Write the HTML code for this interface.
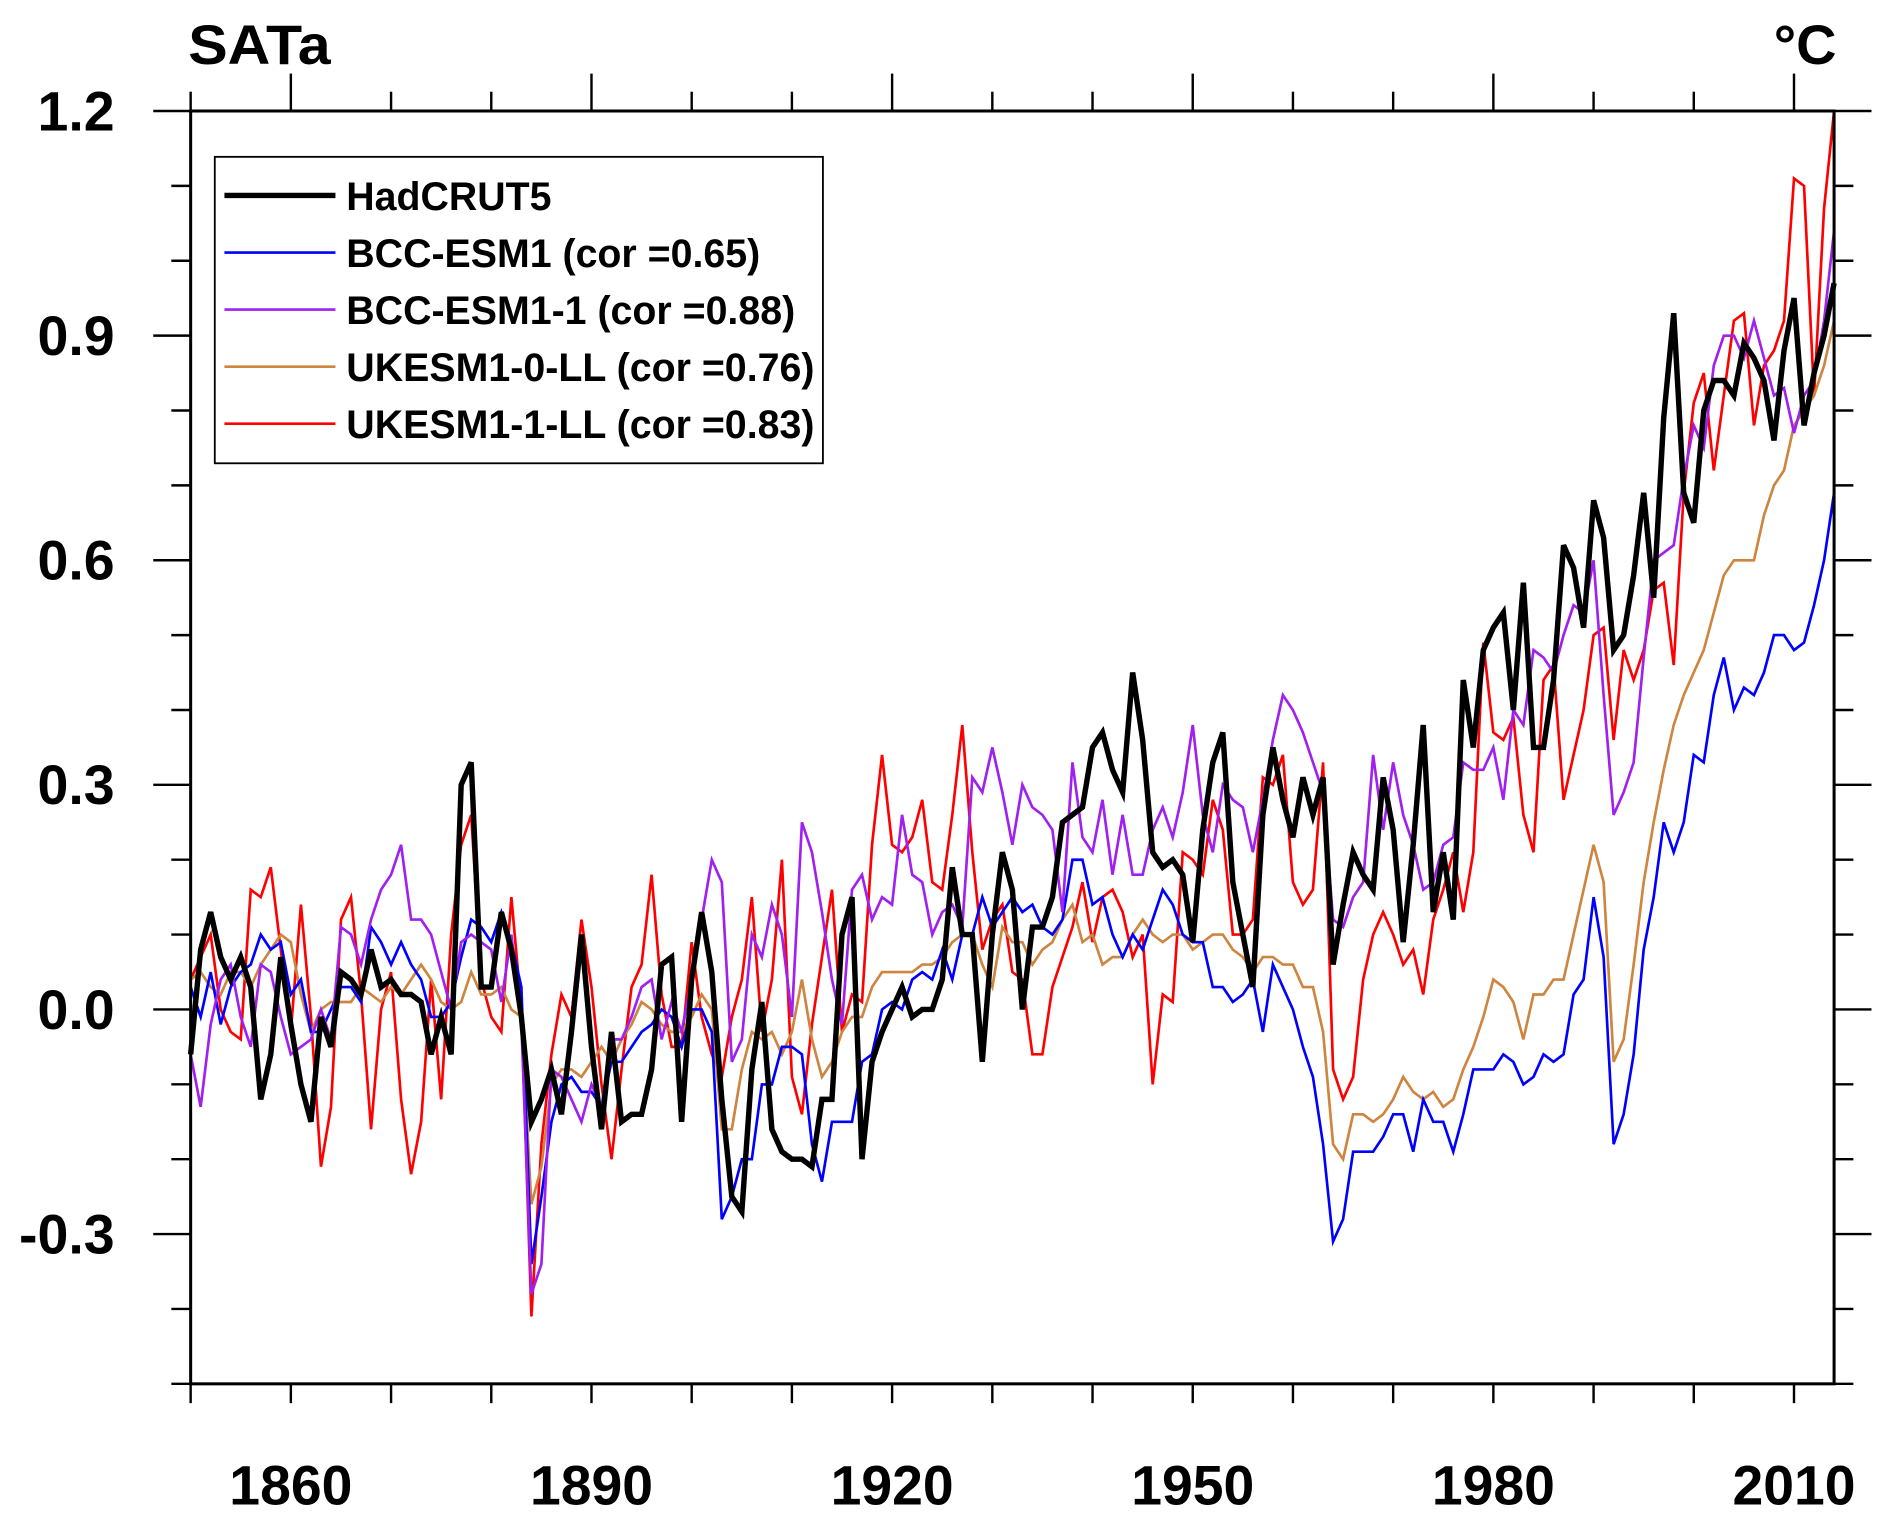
<!DOCTYPE html>
<html><head><meta charset="utf-8"><style>
html,body{margin:0;padding:0;background:#fff;}
svg{display:block;}
text{font-family:"Liberation Sans",Arial,sans-serif;font-weight:bold;fill:#000;}
</style></head><body>
<svg id="chart" width="1892" height="1525" viewBox="0 0 1568 1264" preserveAspectRatio="none" xmlns="http://www.w3.org/2000/svg">
<rect x="0" y="0" width="1568" height="1264" fill="#fff"/>
<g id="ticks"></g>
<g id="series"></g>
<rect x="158" y="92" width="1362" height="1055" fill="none" stroke="#000" stroke-width="2.5"/>
<text x="156" y="53" font-size="46" textLength="118" lengthAdjust="spacingAndGlyphs">SATa</text>
<text x="1470" y="53" font-size="46" textLength="52" lengthAdjust="spacingAndGlyphs">°C</text>
<g id="ylabels"></g>
<g id="xlabels"></g>
<g>
<rect x="178" y="130" width="504" height="254" fill="#fff" stroke="#000" stroke-width="1.5"/>
<g id="legend-items"></g>
</g>
</svg>
<script>
const years = [1850, 2014];
const yTickValues = [-0.3, 0, 0.3, 0.6, 0.9, 1.2];
const yTickLabels = ["-0.3", "0.0", "0.3", "0.6", "0.9", "1.2"];
const xTickValues = [1860, 1890, 1920, 1950, 1980, 2010];
const xTickLabels = ["1860", "1890", "1920", "1950", "1980", "2010"];
const seriesNames = ["HadCRUT5", "BCC-ESM1 (cor =0.65)", "BCC-ESM1-1 (cor =0.88)", "UKESM1-0-LL (cor =0.76)", "UKESM1-1-LL (cor =0.83)"];
const seriesColors = ["#000000", "#0000ff", "#a020f0", "#cd853f", "#ff0000"];

const hadcrut5 = [
-0.06,0.08,0.13,0.07,0.04,0.07,0.03,-0.12,-0.06,0.07,
-0.02,-0.10,-0.15,-0.01,-0.05,0.05,0.04,0.02,0.08,0.03,
0.04,0.02,0.02,0.01,-0.06,-0.01,-0.06,0.30,0.33,0.03,
0.03,0.13,0.08,-0.01,-0.15,-0.12,-0.08,-0.14,-0.03,0.10,
-0.05,-0.16,-0.03,-0.15,-0.14,-0.14,-0.08,0.06,0.07,-0.15,
0.04,0.13,0.05,-0.12,-0.25,-0.27,-0.08,0.01,-0.16,-0.19,
-0.20,-0.20,-0.21,-0.12,-0.12,0.10,0.15,-0.20,-0.07,-0.03,
0.00,0.03,-0.01,0.00,0.00,0.04,0.19,0.10,0.10,-0.07,
0.10,0.21,0.16,0.00,0.11,0.11,0.15,0.25,0.26,0.27,
0.35,0.37,0.32,0.29,0.45,0.36,0.21,0.19,0.20,0.18,
0.09,0.24,0.33,0.37,0.17,0.10,0.03,0.26,0.35,0.28,
0.23,0.31,0.26,0.31,0.06,0.14,0.21,0.18,0.16,0.31,
0.24,0.09,0.22,0.38,0.13,0.21,0.12,0.44,0.35,0.48,
0.51,0.53,0.40,0.57,0.35,0.35,0.44,0.62,0.59,0.51,
0.68,0.63,0.48,0.50,0.58,0.69,0.55,0.79,0.93,0.69,
0.65,0.80,0.84,0.84,0.82,0.89,0.87,0.84,0.76,0.88,
0.95,0.78,0.85,0.90,0.97];

const bccEsm1 = [
0.03,-0.01,0.05,-0.02,0.03,0.05,0.06,0.10,0.08,0.09,
0.02,0.04,-0.03,-0.03,0.00,0.03,0.03,0.01,0.11,0.09,
0.06,0.09,0.06,0.04,-0.01,-0.01,0.01,0.07,0.12,0.11,
0.09,0.13,0.09,0.03,-0.34,-0.25,-0.15,-0.10,-0.09,-0.11,
-0.11,-0.13,-0.07,-0.07,-0.05,-0.03,-0.02,0.00,-0.01,-0.05,
0.00,0.00,-0.03,-0.28,-0.25,-0.20,-0.20,-0.10,-0.10,-0.05,
-0.05,-0.06,-0.18,-0.23,-0.15,-0.15,-0.15,-0.07,-0.06,0.00,
0.01,0.00,0.04,0.05,0.04,0.08,0.04,0.10,0.10,0.15,
0.11,0.13,0.15,0.13,0.14,0.11,0.10,0.12,0.20,0.20,
0.14,0.15,0.10,0.07,0.10,0.08,0.12,0.16,0.14,0.10,
0.09,0.09,0.03,0.03,0.01,0.02,0.04,-0.03,0.06,0.03,
0.00,-0.05,-0.09,-0.18,-0.31,-0.28,-0.19,-0.19,-0.19,-0.17,
-0.14,-0.14,-0.19,-0.12,-0.15,-0.15,-0.19,-0.14,-0.08,-0.08,
-0.08,-0.06,-0.07,-0.10,-0.09,-0.06,-0.07,-0.06,0.02,0.04,
0.15,0.07,-0.18,-0.14,-0.06,0.08,0.15,0.25,0.21,0.25,
0.34,0.33,0.42,0.47,0.40,0.43,0.42,0.45,0.50,0.50,
0.48,0.49,0.54,0.60,0.69];

const bccEsm11 = [
-0.06,-0.13,-0.02,0.04,0.06,-0.01,-0.05,0.06,0.05,-0.01,
-0.06,-0.05,-0.04,0.00,-0.04,0.11,0.10,0.06,0.12,0.16,
0.18,0.22,0.12,0.12,0.10,0.05,0.00,0.09,0.10,0.09,
0.08,0.01,0.10,-0.02,-0.38,-0.34,-0.08,-0.09,-0.12,-0.15,
-0.10,-0.13,-0.04,-0.04,-0.01,0.03,0.04,-0.04,0.01,-0.03,
0.04,0.12,0.20,0.17,-0.07,-0.04,0.10,0.07,0.14,0.10,
-0.01,0.25,0.21,0.13,0.04,-0.02,0.16,0.18,0.12,0.15,
0.14,0.26,0.18,0.17,0.10,0.13,0.14,0.11,0.31,0.29,
0.35,0.29,0.22,0.30,0.27,0.26,0.24,0.13,0.33,0.23,
0.21,0.28,0.18,0.26,0.18,0.18,0.24,0.27,0.23,0.29,
0.38,0.26,0.21,0.30,0.28,0.27,0.21,0.28,0.36,0.42,
0.40,0.37,0.33,0.29,0.12,0.11,0.15,0.17,0.34,0.24,
0.33,0.26,0.22,0.16,0.17,0.22,0.23,0.33,0.32,0.32,
0.35,0.28,0.40,0.38,0.48,0.47,0.45,0.50,0.54,0.53,
0.60,0.42,0.26,0.29,0.33,0.47,0.60,0.61,0.62,0.71,
0.78,0.75,0.86,0.90,0.90,0.87,0.92,0.87,0.82,0.83,
0.77,0.82,0.84,0.92,1.04];

const ukesm10 = [
0.04,0.05,0.03,0.02,0.05,0.05,0.03,0.06,0.08,0.10,
0.09,0.02,-0.03,0.00,0.01,0.01,0.01,0.03,0.02,0.01,
0.03,0.02,0.04,0.06,0.04,0.01,0.00,0.01,0.05,0.02,
0.02,0.03,0.00,-0.01,-0.26,-0.21,-0.10,-0.08,-0.08,-0.09,
-0.07,-0.05,-0.07,-0.04,-0.02,0.01,0.00,-0.02,-0.03,-0.03,
-0.01,0.02,0.00,-0.16,-0.16,-0.08,-0.03,-0.04,-0.03,-0.06,
-0.03,0.04,-0.04,-0.09,-0.07,-0.03,-0.01,-0.01,0.03,0.05,
0.05,0.05,0.05,0.06,0.06,0.07,0.09,0.10,0.10,0.06,
0.03,0.11,0.09,0.09,0.06,0.08,0.09,0.12,0.14,0.09,
0.10,0.06,0.07,0.07,0.10,0.12,0.10,0.09,0.10,0.10,
0.08,0.09,0.10,0.10,0.08,0.07,0.05,0.07,0.07,0.06,
0.06,0.03,0.03,-0.03,-0.18,-0.20,-0.14,-0.14,-0.15,-0.14,
-0.12,-0.09,-0.11,-0.12,-0.11,-0.13,-0.12,-0.08,-0.05,-0.01,
0.04,0.03,0.01,-0.04,0.02,0.02,0.04,0.04,0.10,0.16,
0.22,0.17,-0.07,-0.04,0.06,0.17,0.25,0.32,0.38,0.42,
0.45,0.48,0.53,0.58,0.60,0.60,0.60,0.66,0.70,0.72,
0.78,0.80,0.82,0.86,0.92];

const ukesm11 = [
0.04,0.07,0.10,0.00,-0.03,-0.04,0.16,0.15,0.19,0.08,
-0.03,0.14,-0.01,-0.21,-0.13,0.12,0.15,0.02,-0.16,0.00,
0.05,-0.12,-0.22,-0.15,0.04,-0.12,0.10,0.22,0.26,0.04,
-0.01,-0.03,0.15,0.00,-0.41,-0.18,-0.06,0.02,-0.01,0.12,
0.03,-0.10,-0.20,-0.08,0.03,0.06,0.18,0.02,-0.05,-0.05,
0.09,-0.01,-0.06,-0.09,-0.01,0.04,0.15,-0.03,0.04,0.20,
-0.09,-0.14,-0.02,0.07,0.16,-0.03,0.02,0.01,0.22,0.34,
0.22,0.21,0.23,0.28,0.17,0.16,0.26,0.38,0.21,0.08,
0.12,0.14,0.05,0.04,-0.06,-0.06,0.03,0.07,0.11,0.17,
0.09,0.15,0.16,0.13,0.07,0.10,-0.10,0.02,0.01,0.21,
0.20,0.18,0.28,0.24,0.10,0.10,0.12,0.31,0.30,0.34,
0.17,0.14,0.16,0.33,-0.08,-0.12,-0.09,0.04,0.10,0.13,
0.10,0.06,0.08,0.02,0.12,0.16,0.21,0.13,0.21,0.49,
0.37,0.36,0.39,0.26,0.21,0.44,0.46,0.28,0.34,0.40,
0.50,0.51,0.36,0.48,0.44,0.48,0.56,0.57,0.46,0.69,
0.81,0.85,0.72,0.82,0.92,0.93,0.78,0.86,0.88,0.92,
1.11,1.10,0.82,1.07,1.20];

const seriesData = [hadcrut5, bccEsm1, bccEsm11, ukesm10, ukesm11];
const seriesKeys = ["hadcrut5", "bcc-esm1", "bcc-esm1-1", "ukesm1-0-ll", "ukesm1-1-ll"];

const NS = "http://www.w3.org/2000/svg";
const L = 158, R = 1520, T = 92, B = 1147;
const yMin = -0.5, yMax = 1.2;
function xScale(yr){ return L + (yr - years[0]) / (years[1] - years[0]) * (R - L); }
function yScale(v){ return B - (v - yMin) / (yMax - yMin) * (B - T); }
function mk(tag, attrs, parent){ const e = document.createElementNS(NS, tag); for (const k in attrs) e.setAttribute(k, attrs[k]); parent.appendChild(e); return e; }

const ticks = document.getElementById('ticks');
for (let i = -5; i <= 12; i++) {
  const v = i / 10;
  const y = yScale(v);
  const major = (i % 3 === 0);
  const len = major ? 31 : 16;
  const t1 = mk('line', {x1: L - len, y1: y, x2: L, y2: y, stroke: '#000', 'stroke-width': 2}, ticks);
  
  
  const t2 = mk('line', {x1: R, y1: y, x2: R + len, y2: y, stroke: '#000', 'stroke-width': 2}, ticks);
  
  
}
for (let yr = 1850; yr <= 2010; yr += 10) {
  const x = xScale(yr);
  const major = ((yr - 1860) % 30 === 0);
  const len = major ? 31 : 16;
  const t1 = mk('line', {x1: x, y1: T - len, x2: x, y2: T, stroke: '#000', 'stroke-width': 2}, ticks);
  
  
  const t2 = mk('line', {x1: x, y1: B, x2: x, y2: B + 16, stroke: '#000', 'stroke-width': 2}, ticks);
  
  
}

const yl = document.getElementById('ylabels');
yTickValues.forEach((v, i) => {
  const t = mk('text', {x: 95, y: yScale(v) + 16, 'font-size': 46, 'text-anchor': 'end'}, yl);
  t.textContent = yTickLabels[i];
  
  
});
const xl = document.getElementById('xlabels');
xTickValues.forEach((v, i) => {
  const t = mk('text', {x: xScale(v), y: 1247, 'font-size': 46, 'text-anchor': 'middle', textLength: 102, lengthAdjust: 'spacingAndGlyphs'}, xl);
  t.textContent = xTickLabels[i];
  
  
});

const legendWidths = [170, 343, 372, 388, 388];
const lg = document.getElementById('legend-items');
seriesNames.forEach((n, i) => {
  const y = 162 + i * 47.3;
  const ln = mk('line', {x1: 186, y1: y, x2: 278, y2: y, stroke: seriesColors[i], 'stroke-width': i === 0 ? 4.5 : 2.2}, lg);
  
  
  const t = mk('text', {x: 287, y: y + 12, 'font-size': 33, textLength: legendWidths[i], lengthAdjust: 'spacingAndGlyphs'}, lg);
  t.textContent = n;
  
  
});

const sg = document.getElementById('series');
const order = [4, 3, 1, 2, 0];
order.forEach(si => {
  const d = seriesData[si];
  const pts = d.map((v, i) => xScale(years[0] + i).toFixed(1) + ',' + yScale(v).toFixed(1)).join(' ');
  const p = mk('polyline', {points: pts, fill: 'none', stroke: seriesColors[si], 'stroke-width': si === 0 ? 4.5 : 2.2, 'stroke-linejoin': 'miter'}, sg);
  
  
});
</script>
</body></html>
